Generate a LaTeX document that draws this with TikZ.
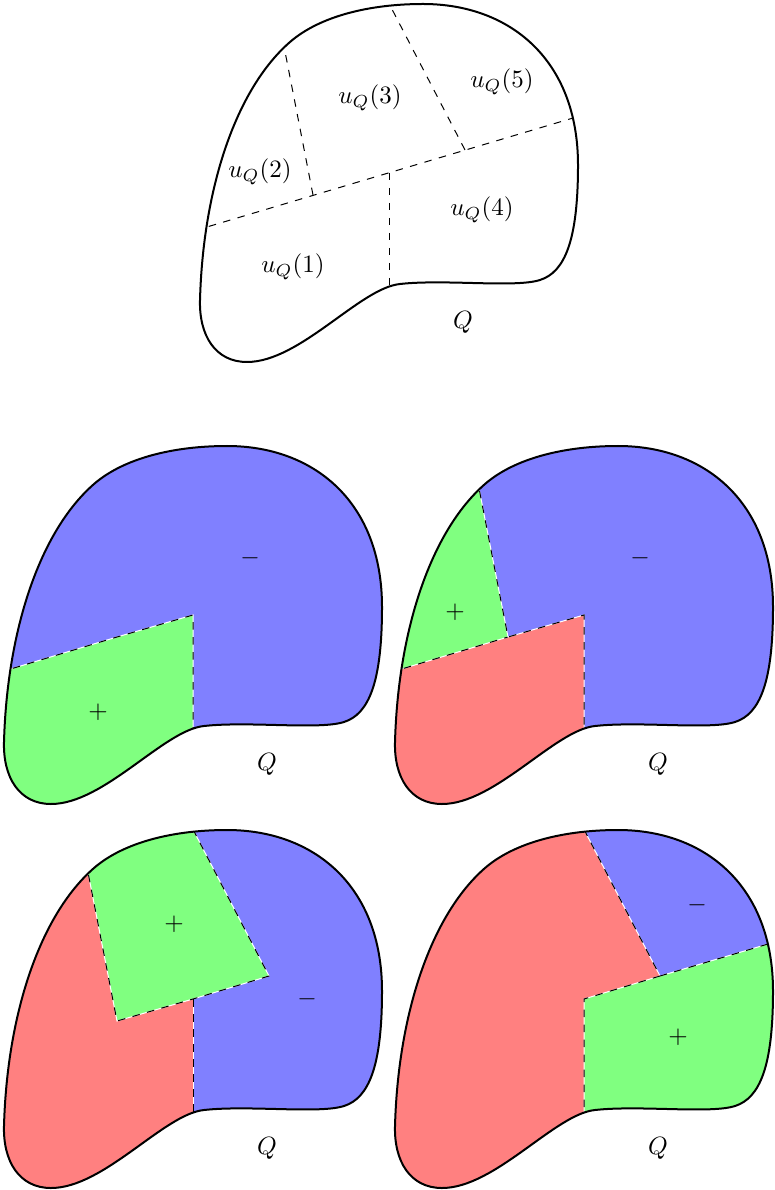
\documentclass[tikz,border=0pt]{standalone}

% outline of Q and the cut points (in px of the top copy)
\newcommand{\outlineQ}{(200,300) .. controls (203,190) and (235,90) .. (290,42) .. controls (320,16) and (370,4) .. (423,4) .. controls (510,4) and (578,60) .. (578,165) .. controls (578,240) and (565,272) .. (540,280) .. controls (515,288) and (445,279) .. (400,284) .. controls (360,288) and (300,362) .. (247,362) .. controls (215,362) and (199,335) .. (200,300) -- cycle}
\newcommand{\cutpoints}{%
  \coordinate (L) at (180,235); \coordinate (R) at (600,110);
  \coordinate (A) at (313,195); \coordinate (B) at (389,173);
  \coordinate (C) at (465,150);
  \coordinate (At) at (273,-10); \coordinate (Ct) at (382,-10);
  \coordinate (Bd) at (389,380);
  \coordinate (LT) at (180,-10); \coordinate (RT) at (600,-10);
  \coordinate (LD) at (180,380); \coordinate (RD) at (600,380);}

\tikzset{
  border/.style={thick},
  cut/.style={thin, dashed, preaction={draw=white, solid}},
  plusfill/.style={fill=green!50},
  minusfill/.style={fill=blue!50},
  restfill/.style={fill=red!50},
}

\begin{document}
\begin{tikzpicture}[x=0.4pt, y=-0.4pt]
\useasboundingbox (0,0) rectangle (774,1190);

% the partition
\begin{scope}
\cutpoints
\begin{scope}
\clip \outlineQ;
\draw[thin, dashed] (L) -- (R);
\draw[thin, dashed] (A) -- (At);
\draw[thin, dashed] (B) -- (Bd);
\draw[thin, dashed] (C) -- (Ct);
\end{scope}
\draw[border] \outlineQ;
\node (u1) at (293,267) {$u_Q(1)$};
\node (u2) at (260,172) {$u_Q(2)$};
\node (u3) at (370,98) {$u_Q(3)$};
\node (u4) at (482,210) {$u_Q(4)$};
\node (u5) at (502,82) {$u_Q(5)$};
\node (q0) at (463,322) {$Q$};
\end{scope}

% first
\begin{scope}[shift={(-196,442)}]
\cutpoints
\begin{scope}
\clip \outlineQ;
\path[minusfill] (LT) rectangle (RD);
\path[plusfill] (L) -- (A) -- (B) -- (Bd) -- (LD) -- cycle;
\draw[cut] (L) -- (A) -- (B) -- (Bd);
\end{scope}
\draw[border] \outlineQ;
\node (m1) at (446,116) {$-$};
\node (p1) at (294,270) {$+$};
\node (q1) at (463,322) {$Q$};
\end{scope}

% second
\begin{scope}[shift={(195,442)}]
\cutpoints
\begin{scope}
\clip \outlineQ;
\path[minusfill] (LT) rectangle (RD);
\path[restfill] (L) -- (A) -- (B) -- (Bd) -- (LD) -- cycle;
\path[plusfill] (L) -- (A) -- (At) -- (LT) -- cycle;
\draw[cut] (L) -- (A);
\draw[cut] (At) -- (A) -- (B) -- (Bd);
\end{scope}
\draw[border] \outlineQ;
\node (m2) at (445,116) {$-$};
\node (p2) at (260,170) {$+$};
\node (q2) at (463,322) {$Q$};
\end{scope}

% third
\begin{scope}[shift={(-196,826)}]
\cutpoints
\begin{scope}
\clip \outlineQ;
\path[restfill] (LT) -- (At) -- (A) -- (B) -- (Bd) -- (LD) -- cycle;
\path[minusfill] (Ct) -- (RT) -- (RD) -- (Bd) -- (B) -- (C) -- cycle;
\path[plusfill] (A) -- (At) -- (Ct) -- (C) -- (B) -- cycle;
\draw[cut] (At) -- (A) -- (B) -- (C) -- (Ct);
\draw[cut] (B) -- (Bd);
\end{scope}
\draw[border] \outlineQ;
\node (p3) at (370,98) {$+$};
\node (m3) at (503,173) {$-$};
\node (q3) at (463,322) {$Q$};
\end{scope}

% fourth
\begin{scope}[shift={(195,826)}]
\cutpoints
\begin{scope}
\clip \outlineQ;
\path[restfill] (LT) -- (Ct) -- (C) -- (B) -- (Bd) -- (LD) -- cycle;
\path[minusfill] (C) -- (Ct) -- (RT) -- (R) -- cycle;
\path[plusfill] (B) -- (C) -- (R) -- (RD) -- (Bd) -- cycle;
\draw[cut] (Ct) -- (C) -- (R);
\draw[cut] (C) -- (B) -- (Bd);
\end{scope}
\draw[border] \outlineQ;
\node (m4) at (502,79) {$-$};
\node (p4) at (483,211) {$+$};
\node (q4) at (463,322) {$Q$};
\end{scope}
\end{tikzpicture}
\end{document}
